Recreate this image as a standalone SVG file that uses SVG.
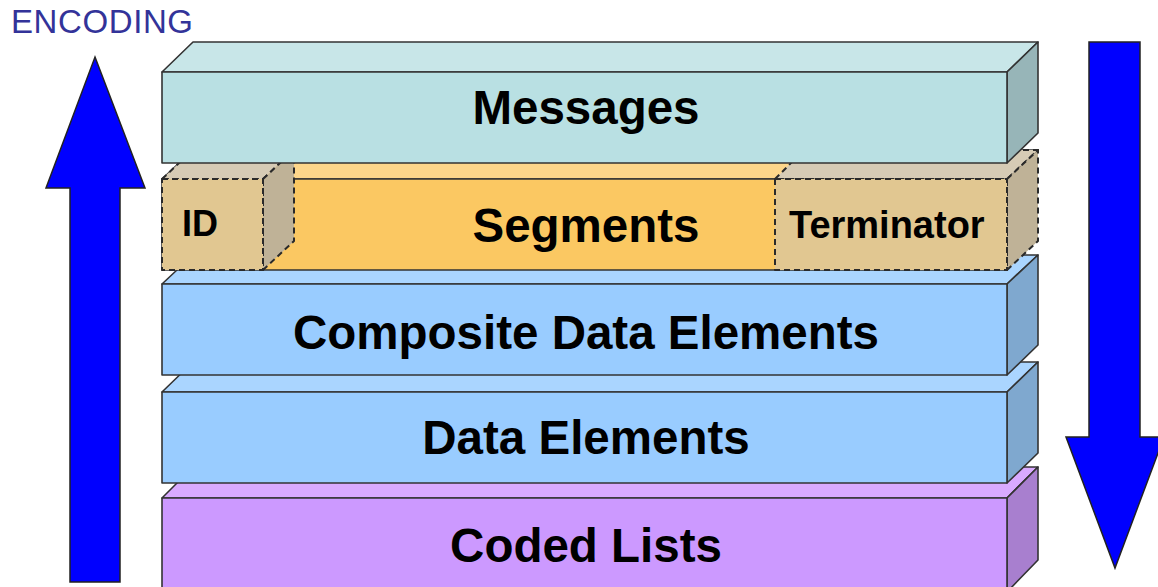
<svg xmlns="http://www.w3.org/2000/svg" width="1158" height="587" viewBox="0 0 1158 587">
<style>
.e{stroke:#333;stroke-width:1.6;stroke-linejoin:round}
.d{stroke:#2a2a2a;stroke-width:2;stroke-dasharray:6 4;stroke-linejoin:round}
.lbl{font-family:"Liberation Sans",Arial,sans-serif;font-weight:bold;font-size:47.5px;fill:#000;text-anchor:middle}
.sm{font-family:"Liberation Sans",Arial,sans-serif;font-weight:bold;fill:#000}
.arr{fill:#0000FF;stroke:#222;stroke-width:1.5;stroke-linejoin:miter}
</style>
<rect width="1158" height="587" fill="#fff"/>
<text x="11" y="33" font-family="Liberation Sans,Arial,sans-serif" font-size="33" letter-spacing="0.6" fill="#333399">ENCODING</text>

<g id="coded-lists">
<polygon class="e" fill="#D9AAFF" points="162,498 193,467 1038,467 1007,498"/>
<polygon class="e" fill="#A87FCF" points="1007,498 1038,467 1038,560 1007,592"/>
<rect class="e" fill="#CC99FF" x="162" y="498" width="845" height="94"/>
<text class="lbl" x="586" y="562">Coded Lists</text>
</g>

<g id="data-elements">
<polygon class="e" fill="#AAD5FF" points="162,392 193,362 1038,362 1007,392"/>
<polygon class="e" fill="#7FA8CF" points="1007,392 1038,362 1038,453 1007,483"/>
<rect class="e" fill="#99CCFF" x="162" y="392" width="845" height="91"/>
<text class="lbl" x="586" y="454">Data Elements</text>
</g>

<g id="composite-data-elements">
<polygon class="e" fill="#AAD5FF" points="162,284 193,255 1038,255 1007,284"/>
<polygon class="e" fill="#7FA8CF" points="1007,284 1038,255 1038,345 1007,375"/>
<rect class="e" fill="#99CCFF" x="162" y="284" width="845" height="91"/>
<text class="lbl" x="586" y="349">Composite Data Elements</text>
</g>

<g id="segments">
<polygon class="e" fill="#FDD68A" points="162,179 193,150 1038,150 1007,179"/>
<rect class="e" fill="#FBC862" x="162" y="179" width="845" height="91"/>
<text class="lbl" x="586" y="242">Segments</text>
</g>

<g id="id-box">
<polygon class="d" fill="#D6CBB5" points="162,179 193,150 294,150 263,179"/>
<polygon class="d" fill="#BFB297" points="263,179 294,150 294,241 263,270"/>
<rect class="d" fill="#E1C791" x="162" y="179" width="101" height="91"/>
<text class="sm" x="182" y="236" font-size="36">ID</text>
</g>

<g id="terminator-box">
<polygon class="d" fill="#D6CBB5" points="775,179 804,150 1038,150 1007,179"/>
<polygon class="d" fill="#BFB297" points="1007,179 1038,150 1038,241 1007,270"/>
<rect class="d" fill="#E1C791" x="775" y="179" width="232" height="91"/>
<text class="sm" x="789" y="238" font-size="38">Terminator</text>
</g>

<g id="messages">
<polygon class="e" fill="#C8E6E8" points="162,72 193,42 1038,42 1007,72"/>
<polygon class="e" fill="#97B5B8" points="1007,72 1038,42 1038,133 1007,163"/>
<rect class="e" fill="#B9E0E3" x="162" y="72" width="845" height="91"/>
<text class="lbl" x="586" y="124">Messages</text>
</g>

<g id="connectors">
<polygon id="encode-arrow" class="arr" points="95,57 145,188 120,188 120,582 70,582 70,188 46,188"/>
<polygon id="decode-arrow" class="arr" points="1089,42 1140,42 1140,437 1164,437 1115,568 1066,437 1089,437"/>
</g>
</svg>
